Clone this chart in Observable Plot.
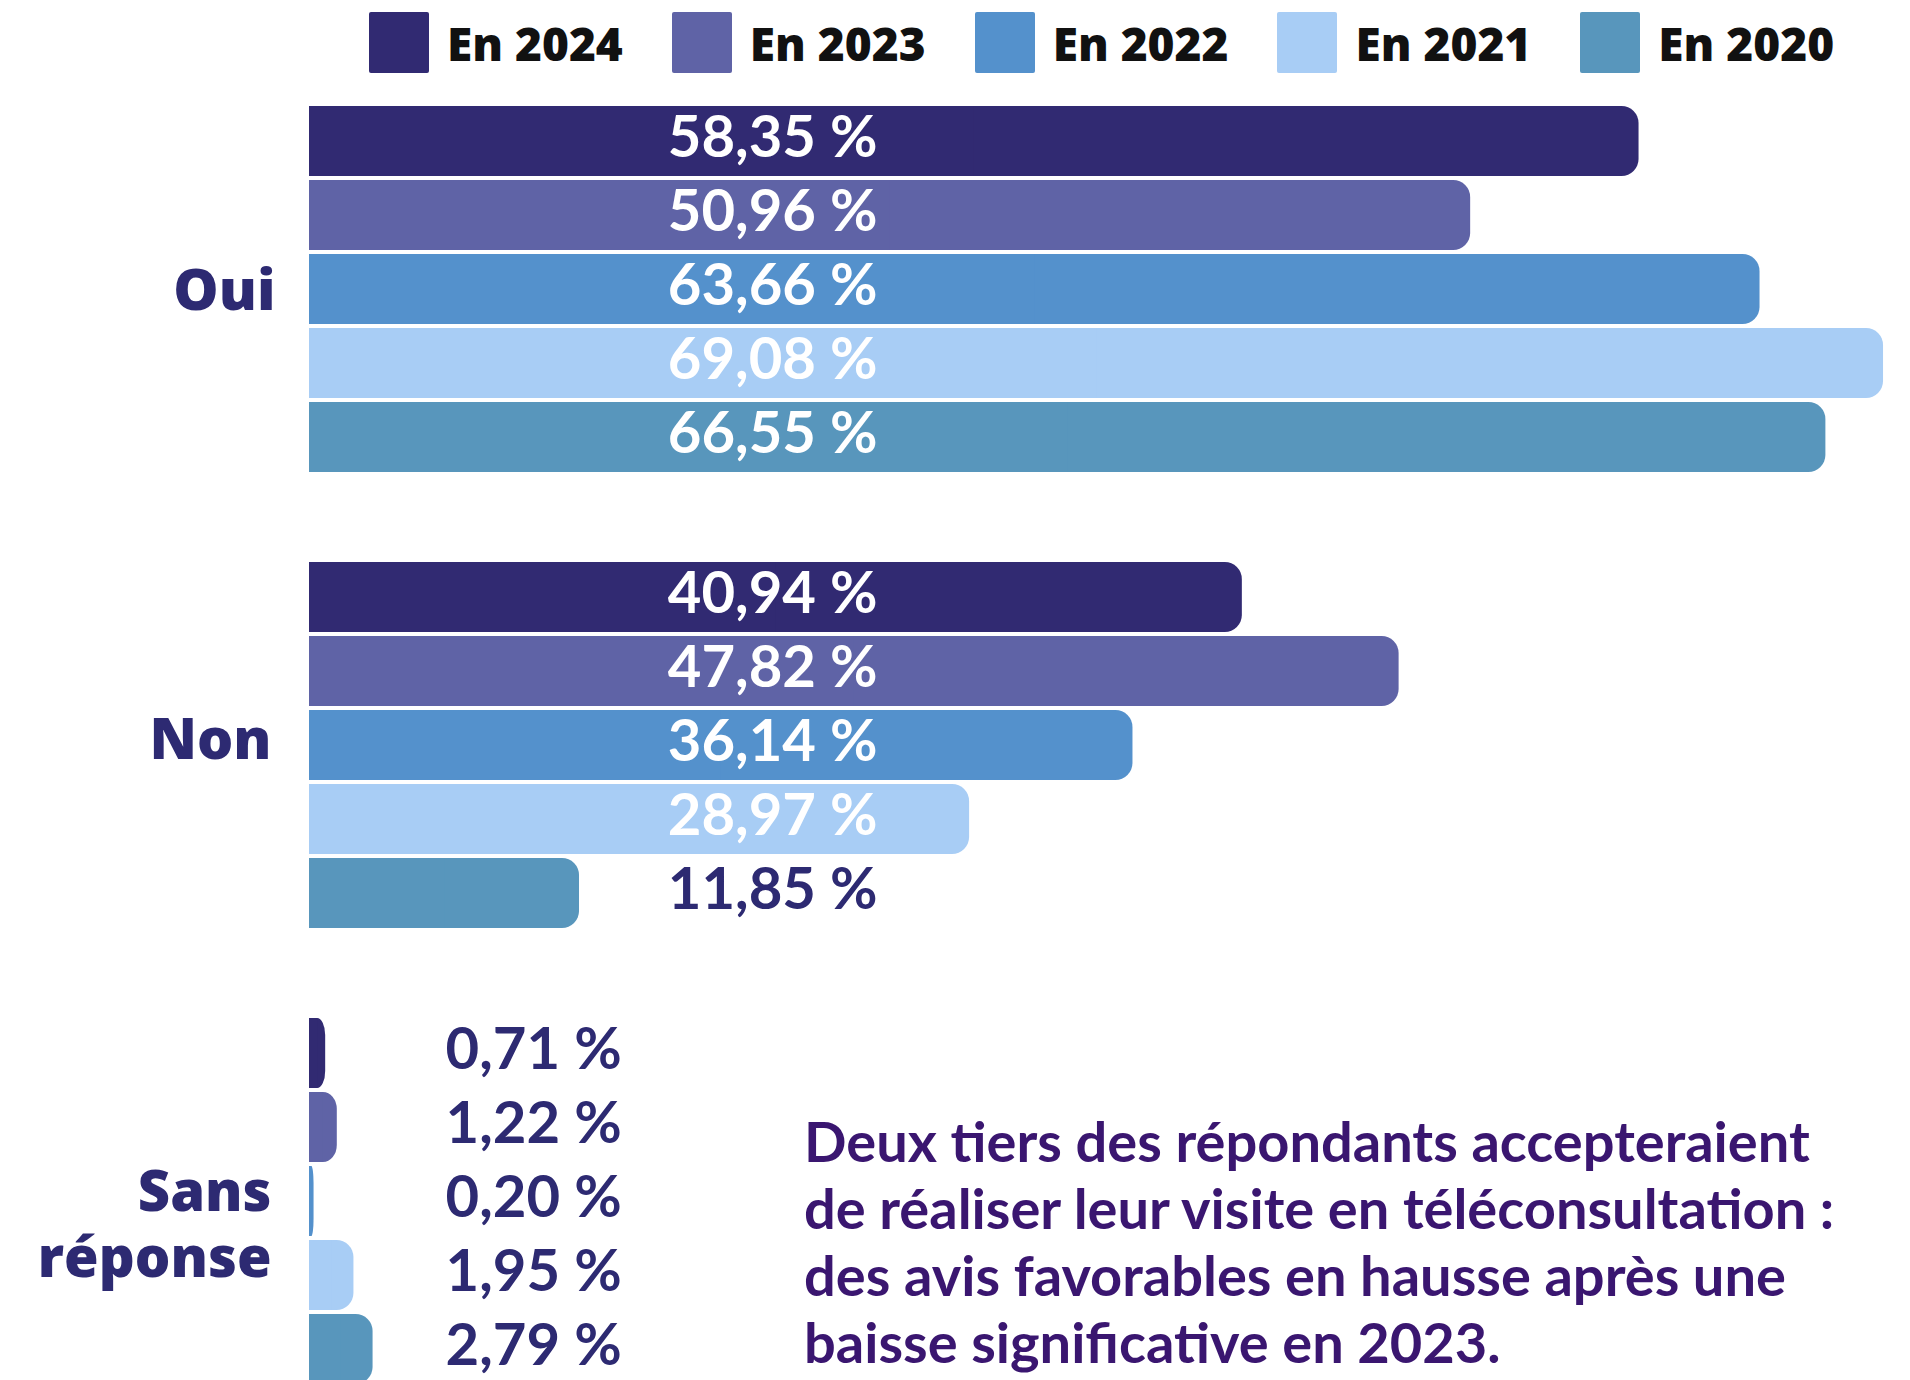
<!DOCTYPE html>
<html>
<head>
<meta charset="utf-8">
<script src="https://cdn.jsdelivr.net/npm/d3@7"></script>
<script src="https://cdn.jsdelivr.net/npm/@observablehq/plot@0.6"></script>
<style>
  html, body { margin: 0; padding: 0; background: #fff; overflow: hidden; width: 1910px; height: 1380px; }
  #root { position: relative; width: 1910px; height: 1380px; overflow: hidden; }
  #legend { position: absolute; left: 369px; top: 12px; height: 61px; display: flex; gap: 49px; align-items: center;
            font-family: "Open Sans", sans-serif; font-weight: 800; font-size: 46px; color: #111; }
  #legend .item { display: flex; align-items: center; gap: 18px; }
  #legend .sw { width: 60px; height: 61px; border-radius: 2px; }
  #chart { position: absolute; left: 0; top: 95px; }
  #note { position: absolute; left: 804px; top: 1107px; font-family: "Lato", sans-serif; font-weight: 700;
          font-size: 56px; line-height: 67px; color: #3a1670; white-space: nowrap; }
</style>
</head>
<body>
<div id="root">
  <div id="legend"></div>
  <div id="chart"></div>
  <div id="note"></div>
</div>
<script>
// ---- data ----
const groups = ["Oui", "Non", "Sans réponse"];
const years = ["En 2024", "En 2023", "En 2022", "En 2021", "En 2020"];
const colors = ["#312a72", "#5f63a6", "#5491cc", "#a8cdf5", "#5896bc"];
const oui = [58.35, 50.96, 63.66, 69.08, 66.55];
const non = [40.94, 47.82, 36.14, 28.97, 11.85];
const sansReponse = [0.71, 1.22, 0.20, 1.95, 2.79];
const noteLines = [
  "Deux tiers des répondants accepteraient",
  "de réaliser leur visite en téléconsultation :",
  "des avis favorables en hausse après une",
  "baisse significative en 2023."
];

// ---- table built from the arrays ----
const series = {"Oui": oui, "Non": non, "Sans réponse": sansReponse};
const rows = groups.flatMap(g => years.map((y, i) => ({group: g, year: y, value: series[g][i]})));

const fmt = v => v.toFixed(2).replace(".", ",") + " %";
const labelEnd = g => g === "Sans réponse" ? 13.7 : 24.93;
const inside = d => d.value > labelEnd(d.group);
const navy = "#2d2a72";

// ---- legend ----
const legend = document.getElementById("legend");
years.forEach((y, i) => {
  const it = document.createElement("div");
  it.className = "item";
  const sw = document.createElement("div");
  sw.className = "sw";
  sw.style.background = colors[i];
  const t = document.createElement("span");
  t.textContent = y;
  it.appendChild(sw); it.appendChild(t);
  legend.appendChild(it);
});

// ---- note ----
document.getElementById("note").innerHTML = noteLines.join("<br>");

// ---- chart ----
const textStyle = {fontFamily: "Lato", fontWeight: 700, fontSize: 58, dy: -3};
const chart = Plot.plot({
  width: 1910,
  height: 1291,
  marginTop: 9,
  marginBottom: 0,
  marginLeft: 309,
  marginRight: 6,
  style: {background: "transparent", overflow: "visible"},
  x: {domain: [0, 70], axis: null},
  y: {domain: years, axis: null, paddingInner: 4 / 74, paddingOuter: 2 / 74},
  fy: {domain: groups, axis: null, paddingInner: 86 / 456, paddingOuter: 0},
  color: {domain: years, range: colors},
  marks: [
    Plot.barX(rows, {x1: 0, x2: "value", y: "year", fy: "group", fill: "year", rx: 17}),
    Plot.barX(rows, {x1: 0, x2: d => d.value / 2, y: "year", fy: "group", fill: "year"}),
    Plot.text(rows.filter(inside), {x: d => labelEnd(d.group), y: "year", fy: "group", text: d => fmt(d.value),
      textAnchor: "end", fill: "white", ...textStyle}),
    Plot.text(rows.filter(d => !inside(d)), {x: d => labelEnd(d.group), y: "year", fy: "group", text: d => fmt(d.value),
      textAnchor: "end", fill: navy, ...textStyle}),
    Plot.text(groups.filter(g => g === "Oui"), {fy: d => d, text: d => d, frameAnchor: "left", textAnchor: "end",
      dx: -34, dy: 2, fill: navy, fontFamily: "Open Sans", fontWeight: 800, fontSize: 57}),
    Plot.text(groups.filter(g => g === "Non"), {fy: d => d, text: d => d, frameAnchor: "left", textAnchor: "end",
      dx: -38, dy: -5, fill: navy, fontFamily: "Open Sans", fontWeight: 800, fontSize: 57}),
    Plot.text(groups.filter(g => g === "Sans réponse"), {fy: d => d, text: () => "Sans\nréponse", frameAnchor: "left", textAnchor: "end",
      dx: -38, dy: 21, lineHeight: 1.18, fill: navy, fontFamily: "Open Sans", fontWeight: 800, fontSize: 56})
  ]
});
document.getElementById("chart").appendChild(chart);
</script>
</body>
</html>
